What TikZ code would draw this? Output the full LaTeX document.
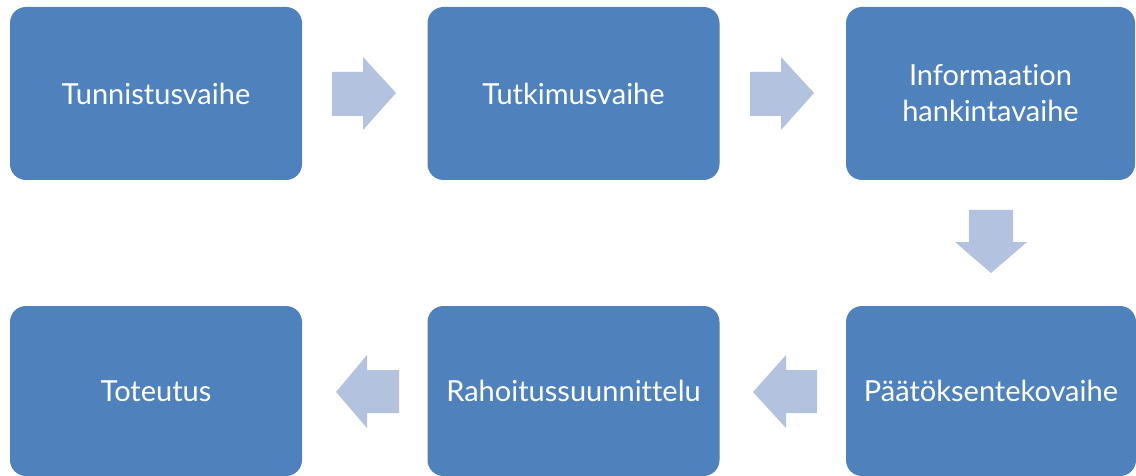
\documentclass[tikz,border=0pt]{standalone}
\usepackage{fontspec}
\setmainfont{Lato}[Ligatures={NoCommon}]
\definecolor{boxblue}{HTML}{4F81BD}
\definecolor{arrblue}{HTML}{B3C2DE}
\begin{document}
\begin{tikzpicture}[x=1pt,y=-1pt,
  stepbox/.style={fill=boxblue,rounded corners=16pt,draw=none,inner sep=0pt,
    minimum width=292pt,text=white,font=\fontsize{29}{36}\selectfont,align=center},
  toprow/.style={minimum height=173pt},
  botrow/.style={minimum height=170pt},
  arr/.style={fill=arrblue,draw=none}]
\useasboundingbox (0,0) rectangle (1136,476);
% boxes
\node[stepbox,toprow] (b1) at (156,93.5) {Tunnistusvaihe};
\node[stepbox,toprow] (b2) at (573.5,93.5) {Tutkimusvaihe};
\node[stepbox,toprow,minimum width=289pt] (b3) at (990.5,93.5) {Informaation\\hankintavaihe};
\node[stepbox,botrow,minimum width=290pt] (b4) at (991,391) {Päätöksentekovaihe};
\node[stepbox,botrow] (b5) at (573.5,391) {Rahoitussuunnittelu};
\node[stepbox,botrow] (b6) at (156,391) {Toteutus};
% arrows
\fill[arr] (332,72) -- (363,72) -- (363,57) -- (396,93) -- (363,130) -- (363,116) -- (332,116) -- cycle;
\fill[arr] (750,72) -- (781,72) -- (781,57) -- (814,93) -- (781,130) -- (781,116) -- (750,116) -- cycle;
\fill[arr] (969,210) -- (1013,210) -- (1013,242) -- (1027,242) -- (991,273) -- (955,242) -- (969,242) -- cycle;
\fill[arr] (817,370) -- (786,370) -- (786,355) -- (753,392) -- (786,428) -- (786,413) -- (817,413) -- cycle;
\fill[arr] (399,370) -- (367,370) -- (367,355) -- (336,392) -- (367,428) -- (367,413) -- (399,413) -- cycle;
\end{tikzpicture}
\end{document}
